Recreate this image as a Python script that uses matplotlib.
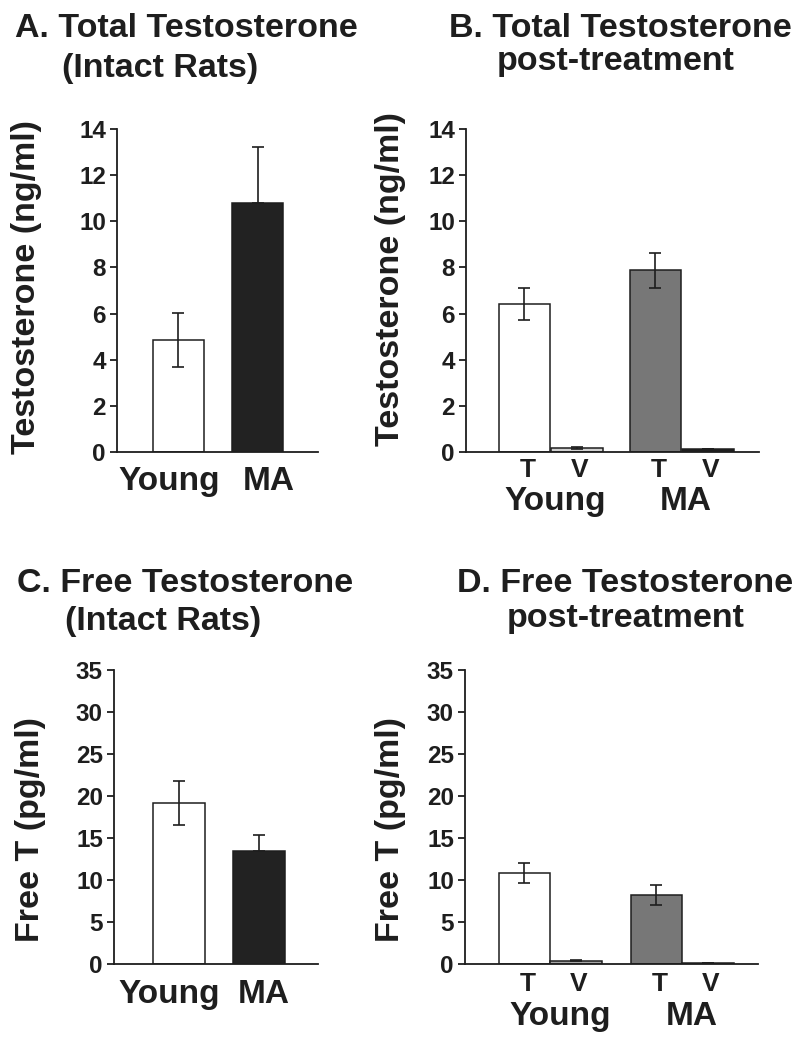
import matplotlib
matplotlib.use('Agg')
import matplotlib.pyplot as plt
import numpy as np

plt.rcParams['font.family'] = ['Liberation Sans', 'DejaVu Sans']
plt.rcParams['font.weight'] = 'bold'

INK = '#1e1e1e'

# ---------------- data ----------------
groups = ['Young', 'MA']
subgroups = ['T', 'V']

# A. Total testosterone, intact rats (ng/ml)
a_vals = [4.85, 10.8]
a_err = [1.18, 2.4]
# B. Total testosterone post-treatment (ng/ml): Young T, Young V, MA T, MA V
b_vals = [6.42, 0.18, 7.87, 0.12]
b_err = [0.69, 0.03, 0.75, 0.02]
# C. Free testosterone, intact rats (pg/ml)
c_vals = [19.2, 13.4]
c_err = [2.6, 2.0]
# D. Free testosterone post-treatment (pg/ml)
d_vals = [10.85, 0.4, 8.2, 0.12]
d_err = [1.22, 0.08, 1.18, 0.04]

intact_colors = ['white', '#222222']
b_colors = ['white', '#d2d2d2', '#777777', '#1e1e1e']
d_colors = ['white', '#a6a6a6', '#777777', '#1e1e1e']

W, H = 800, 1039
fig = plt.figure(figsize=(W / 100, H / 100), dpi=100)


def px_axes(left, right, top, bottom):
    return fig.add_axes([left / W, 1 - bottom / H, (right - left) / W, (bottom - top) / H])


def style(ax, ymax, step):
    ax.set_ylim(0, ymax)
    ax.set_yticks(np.arange(0, ymax + 0.1, step))
    ax.spines['top'].set_visible(False)
    ax.spines['right'].set_visible(False)
    for s in ('left', 'bottom'):
        ax.spines[s].set_linewidth(1.3)
        ax.spines[s].set_color(INK)
    ax.tick_params(axis='y', direction='out', length=5, width=1.3, pad=3,
                   labelsize=17.5, colors=INK)
    ax.tick_params(axis='x', length=0, labelbottom=False)
    for lab in ax.get_yticklabels():
        lab.set_fontweight('bold')


def errs(ax, x, vals, err, colors):
    # lower whisker is hidden inside dark (black) bars
    lower = [0 if c in ('#222222', '#1e1e1e') else e for e, c in zip(err, colors)]
    ax.errorbar(x, vals, yerr=[lower, err], fmt='none', ecolor=INK, elinewidth=1.2,
                capsize=4.5, capthick=1.2, zorder=3)


def label(ax, x, text, below_px, size, dx_px=0):
    ax.annotate(text, xy=(x, 0), xycoords=ax.get_xaxis_transform(),
                xytext=(dx_px * 0.72, -below_px * 0.72), textcoords='offset points',
                ha='center', va='baseline', fontsize=size, fontweight='bold', color=INK)


def intact_panel(ax, vals, err, ymax, step, width_units, first, spacing):
    x = first + spacing * np.arange(len(groups))
    ax.bar(x, vals, width=1.0, color=intact_colors, edgecolor=INK, linewidth=1.1, zorder=2)
    errs(ax, x, vals, err, intact_colors)
    ax.set_xlim(0, width_units)
    style(ax, ymax, step)
    return x


def treat_panel(ax, vals, err, colors, ymax, step, width_units, first, gspacing, sspacing):
    x = np.array([first + gspacing * g + sspacing * s
                  for g in range(len(groups)) for s in range(len(subgroups))])
    ax.bar(x, vals, width=1.0, color=colors, edgecolor=INK, linewidth=1.1, zorder=2)
    errs(ax, x, vals, err, colors)
    ax.set_xlim(0, width_units)
    style(ax, ymax, step)
    return x


# Panel A
axA = px_axes(117, 318, 129, 452)
xA = intact_panel(axA, a_vals, a_err, 14, 2, 3.94, 1.2, 1.56)
for xi, g, dx in zip(xA, groups, [-9, 11]):
    label(axA, xi, g, 38, 24, dx)

# Panel B
axB = px_axes(466, 759, 129, 452)
xB = treat_panel(axB, b_vals, b_err, b_colors, 14, 2, 5.69, 1.136, 2.544, 1.02)
for i, xi in enumerate(xB):
    label(axB, xi, subgroups[i % 2], 25, 19, 3)
for g in range(len(groups)):
    label(axB, (xB[2 * g] + xB[2 * g + 1]) / 2, groups[g], 58, 24, 4)

# Panel C
axC = px_axes(114, 318, 670, 964)
xC = intact_panel(axC, c_vals, c_err, 35, 5, 3.92, 1.25, 1.53)
for xi, g, dx in zip(xC, groups, [-10, 5]):
    label(axC, xi, g, 39, 24, dx)

# Panel D
axD = px_axes(465, 758, 670, 964)
xD = treat_panel(axD, d_vals, d_err, d_colors, 35, 5, 5.69, 1.155, 2.56, 1.0)
for i, xi in enumerate(xD):
    label(axD, xi, subgroups[i % 2], 27, 19, 3)
for g in range(len(groups)):
    label(axD, (xD[2 * g] + xD[2 * g + 1]) / 2, groups[g], 61, 24, 10)


# Y labels
def ylab(x, y, text):
    fig.text(x / W, 1 - y / H, text, rotation=90, ha='center', va='center',
             fontsize=24.5, fontweight='bold', color=INK)


ylab(27, 287, 'Testosterone (ng/ml)')
ylab(390, 279, 'Testosterone (ng/ml)')
ylab(31, 830, 'Free T (pg/ml)')
ylab(390, 830, 'Free T (pg/ml)')


# Titles
def title(x, y, text):
    fig.text(x / W, 1 - y / H, text, ha='left', va='baseline',
             fontsize=24.5, fontweight='bold', color=INK)


title(15, 37, 'A. Total Testosterone')
title(62, 77, '(Intact Rats)')
title(449, 37, 'B. Total Testosterone')
title(497, 70, 'post-treatment')
title(17, 592, 'C. Free Testosterone')
title(65, 630, '(Intact Rats)')
title(457, 592, 'D. Free Testosterone')
title(507, 627, 'post-treatment')

fig.savefig('out.png', dpi=100, facecolor='white')
